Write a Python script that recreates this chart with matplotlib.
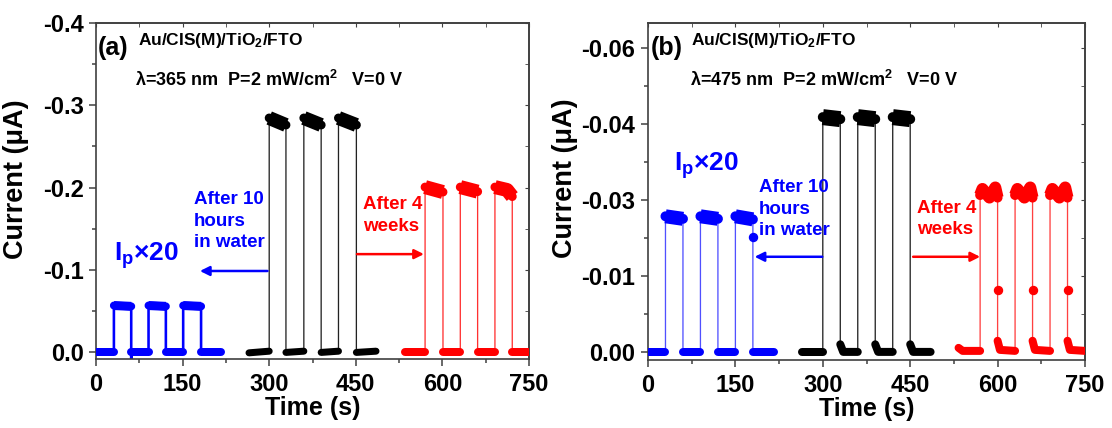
import numpy as np
import matplotlib
matplotlib.use('Agg')
import matplotlib.pyplot as plt
from matplotlib import font_manager
from matplotlib.ticker import MultipleLocator, FixedLocator, FixedFormatter, FormatStrFormatter

names = set(f.name for f in font_manager.fontManager.ttflist)
FONT = 'Liberation Sans Narrow' if 'Liberation Sans Narrow' in names else 'Liberation Sans'
plt.rcParams['font.family'] = [FONT, 'DejaVu Sans']
plt.rcParams['font.weight'] = 'bold'
plt.rcParams['axes.unicode_minus'] = False
plt.rcParams['mathtext.fontset'] = 'custom'
plt.rcParams['mathtext.rm'] = FONT + ':bold'
plt.rcParams['mathtext.bf'] = FONT + ':bold'
plt.rcParams['mathtext.it'] = FONT + ':bold'

# ---- data: time (s), current (uA) ----
# (a) 365 nm
a_blue_t = [0, 31, 31, 61, 61, 61, 91, 91, 121, 121, 151, 151, 182, 182, 216]
a_blue_i = [0, 0, -0.0565, -0.0555, 0.008, 0, 0, -0.0565, -0.0555, 0, 0, -0.0565, -0.0555, 0, 0]
a_black_t = [265, 300, 300, 329, 329, 360, 360, 390, 390, 420, 420, 451, 451, 485]
a_black_i = [0.001, -0.001, -0.2845, -0.276, 0.0005, -0.001, -0.2845, -0.276, 0.0005, -0.001, -0.2845, -0.276, 0.0005, -0.001]
a_red_t = [536, 570, 570, 601, 601, 631, 631, 661, 661, 691, 691, 712, 721, 721, 750]
a_red_i = [0, 0, -0.2005, -0.1945, 0, 0, -0.2005, -0.195, 0, 0, -0.2005, -0.197, -0.189, 0, 0]

# (b) 475 nm
b_blue_t = [0, 30, 30, 60, 60, 90, 90, 120, 120, 150, 150, 180, 180, 180, 216]
b_blue_i = [0, 0, -0.0268, -0.0263, 0, 0, -0.0268, -0.0263, 0, 0, -0.0268, -0.0262, -0.0228, 0, 0]
b_blue_mid_t = [180]
b_blue_mid_i = [-0.0228]
b_black_t = [264, 300, 300, 330, 330, 335, 360, 360, 390, 390, 395, 420, 420, 450, 450, 455, 485]
b_black_i = [0, 0, -0.0464, -0.046, -0.0015, 0, 0, -0.0464, -0.046, -0.0015, 0, 0, -0.0464, -0.046, -0.0015, 0, 0]
b_red_t = [533, 540, 570, 570, 574, 586, 596, 600, 600, 600, 604, 630, 630, 634, 646, 656, 660, 660, 660, 664, 690,
           690, 694, 706, 716, 720, 720, 720, 724, 750]
b_red_i = [-0.0008, -0.0002, -0.0002, -0.031, -0.0322, -0.0305, -0.0325, -0.0305, -0.0122, -0.0022, -0.0004, -0.0002,
           -0.031, -0.0322, -0.0305, -0.0325, -0.0305, -0.0122, -0.0022, -0.0004, -0.0002,
           -0.031, -0.0322, -0.0305, -0.0325, -0.0305, -0.0122, -0.0022, -0.0004, -0.0002]
b_red_mid_t = [600, 660, 720]
b_red_mid_i = [-0.0122, -0.0122, -0.0122]

x_ticks = [0, 150, 300, 450, 600, 750]
b_yticks = [0, -0.015, -0.03, -0.045, -0.06]
b_ytick_labels = ['0.00', '-0.01', '-0.03', '-0.04', '-0.06']

PX = 0.72  # points per pixel at dpi 100


def draw(ax, t, i, color, line_color, line_px, core_on, body_on, core_off):
    t = np.asarray(t, float)
    i = np.asarray(i, float)
    ax.plot(t, i, color=line_color, lw=line_px * PX, zorder=2)
    big = 0.3 * np.abs(i).max()
    cuts = np.where(np.diff(t) == 0)[0] + 1
    for tt, ii in zip(np.split(t, cuts), np.split(i, cuts)):
        if len(tt) < 2:
            continue
        if np.abs(ii).mean() > big:
            ax.plot(tt, ii, color=color, lw=body_on * PX, solid_capstyle='butt', solid_joinstyle='round', zorder=3)
            ax.plot(tt, ii, color=color, lw=core_on * PX, solid_capstyle='round', solid_joinstyle='round', zorder=3)
        else:
            ax.plot(tt, ii, color=color, lw=core_off * PX, solid_capstyle='round', solid_joinstyle='round', zorder=3)


def style(ax, ylim):
    ax.set_xlim(0, 750)
    ax.set_ylim(*ylim)
    ax.set_xticks(x_ticks)
    ax.xaxis.set_minor_locator(MultipleLocator(75))
    ax.tick_params(which='both', direction='out', labelsize=17, width=1.1, color='#404040')
    ax.tick_params(which='major', length=5, pad=4)
    ax.tick_params(which='minor', length=3)
    ax.tick_params(axis='x', pad=5)
    for s in ax.spines.values():
        s.set_color('#404040')
        s.set_linewidth(1.2)
    top = ax.secondary_xaxis('top')
    top.set_xticks(x_ticks)
    top.xaxis.set_minor_locator(MultipleLocator(75))
    top.tick_params(which='both', direction='in', length=3, labeltop=False, color='#404040')
    top.spines['top'].set_color('#404040')
    top.spines['top'].set_linewidth(1.2)
    right = ax.secondary_yaxis('right')
    right.yaxis.set_major_locator(ax.yaxis.get_major_locator())
    right.yaxis.set_minor_locator(ax.yaxis.get_minor_locator())
    right.tick_params(which='both', direction='in', length=3, labelright=False, color='#404040')
    right.spines['right'].set_color('#404040')
    right.spines['right'].set_linewidth(1.2)
    ax.set_xlabel('Time (s)', fontsize=18, fontweight='bold')
    ax.set_ylabel('Current (\u03bcA)', fontsize=19.5, fontweight='bold')


def arrow(ax, tail, head, color):
    ax.annotate('', xy=head, xytext=tail,
                arrowprops=dict(arrowstyle='-|>', color=color, lw=1.8, mutation_scale=14, shrinkA=0, shrinkB=0))


fig = plt.figure(figsize=(11.12, 4.28), dpi=100)
ax_a = fig.add_axes([96 / 1112, 1 - 359 / 428, 433 / 1112, 336 / 428])
ax_b = fig.add_axes([648 / 1112, 1 - 360 / 428, 437 / 1112, 337 / 428])

# ---- panel (a) ----
ax_a.yaxis.set_major_locator(MultipleLocator(0.1))
ax_a.yaxis.set_minor_locator(MultipleLocator(0.05))
ax_a.yaxis.set_major_formatter(FormatStrFormatter('%.1f'))
draw(ax_a, a_blue_t, a_blue_i, '#0000ff', '#0000ff', 2.6, 8, 9, 8)
draw(ax_a, a_black_t, a_black_i, '#000000', '#222222', 1.3, 9, 14, 7)
draw(ax_a, a_red_t, a_red_i, '#ff0000', '#ff3030', 1.3, 9, 14, 8)
style(ax_a, (0.0085, -0.4))

kw = dict(fontweight='bold', ha='left', va='center')
ax_a.text(3, -0.37, '(a)', fontsize=18, **kw)
ax_a.text(72, -0.379, 'Au/CIS(M)/TiO$_2$/FTO', fontsize=12.5, **kw)
ax_a.text(68, -0.331, '\u03bb=365 nm  P=2 mW/cm$^2$   V=0 V', fontsize=13, **kw)
ax_a.text(31, -0.117, 'I$_p$\u00d720', fontsize=19, color='#0000ff', **kw)
ax_a.text(169, -0.159, 'After 10\nhours\nin water', fontsize=13.5, color='#0000ff', linespacing=1.35, **kw)
ax_a.text(462, -0.166, 'After 4\nweeks', fontsize=13.5, color='#ff0000', linespacing=1.35, **kw)
arrow(ax_a, (297, -0.0985), (180, -0.0985), '#0000ff')
arrow(ax_a, (452, -0.119), (568, -0.119), '#ff0000')

# ---- panel (b) ----
ax_b.yaxis.set_major_locator(FixedLocator(b_yticks))
ax_b.yaxis.set_major_formatter(FixedFormatter(b_ytick_labels))
ax_b.yaxis.set_minor_locator(MultipleLocator(0.0075))
draw(ax_b, b_blue_t, b_blue_i, '#0000ff', '#5050ff', 1.3, 10, 14, 8)
draw(ax_b, b_black_t, b_black_i, '#000000', '#222222', 1.3, 10, 16, 8)
draw(ax_b, b_red_t, b_red_i, '#ff0000', '#ff4040', 1.3, 10, 12, 8)
ax_b.plot(b_blue_mid_t, b_blue_mid_i, 'o', color='#0000ff', ms=8 * PX, zorder=4)
ax_b.plot(b_red_mid_t, b_red_mid_i, 'o', color='#ff0000', ms=8 * PX, zorder=4)
style(ax_b, (0.0016, -0.065))

ax_b.text(4, -0.06, '(b)', fontsize=18, **kw)
ax_b.text(74, -0.0616, 'Au/CIS(M)/TiO$_2$/FTO', fontsize=12.5, **kw)
ax_b.text(72, -0.0537, '\u03bb=475 nm  P=2 mW/cm$^2$   V=0 V', fontsize=13, **kw)
ax_b.text(44, -0.0369, 'I$_p$\u00d720', fontsize=19, color='#0000ff', **kw)
ax_b.text(190, -0.0282, 'After 10\nhours\nin water', fontsize=13.5, color='#0000ff', linespacing=1.35, **kw)
ax_b.text(462, -0.0263, 'After 4\nweeks', fontsize=13.5, color='#ff0000', linespacing=1.35, **kw)
arrow(ax_b, (299, -0.0188), (183, -0.0188), '#0000ff')
arrow(ax_b, (455, -0.0188), (570, -0.0188), '#ff0000')

ax_a.yaxis.set_label_coords(-0.155, 0.535)
ax_b.yaxis.set_label_coords(-0.16, 0.54)
ax_a.xaxis.set_label_coords(0.5, -0.11)
ax_b.xaxis.set_label_coords(0.5, -0.11)

fig.savefig('out.png', dpi=100)
